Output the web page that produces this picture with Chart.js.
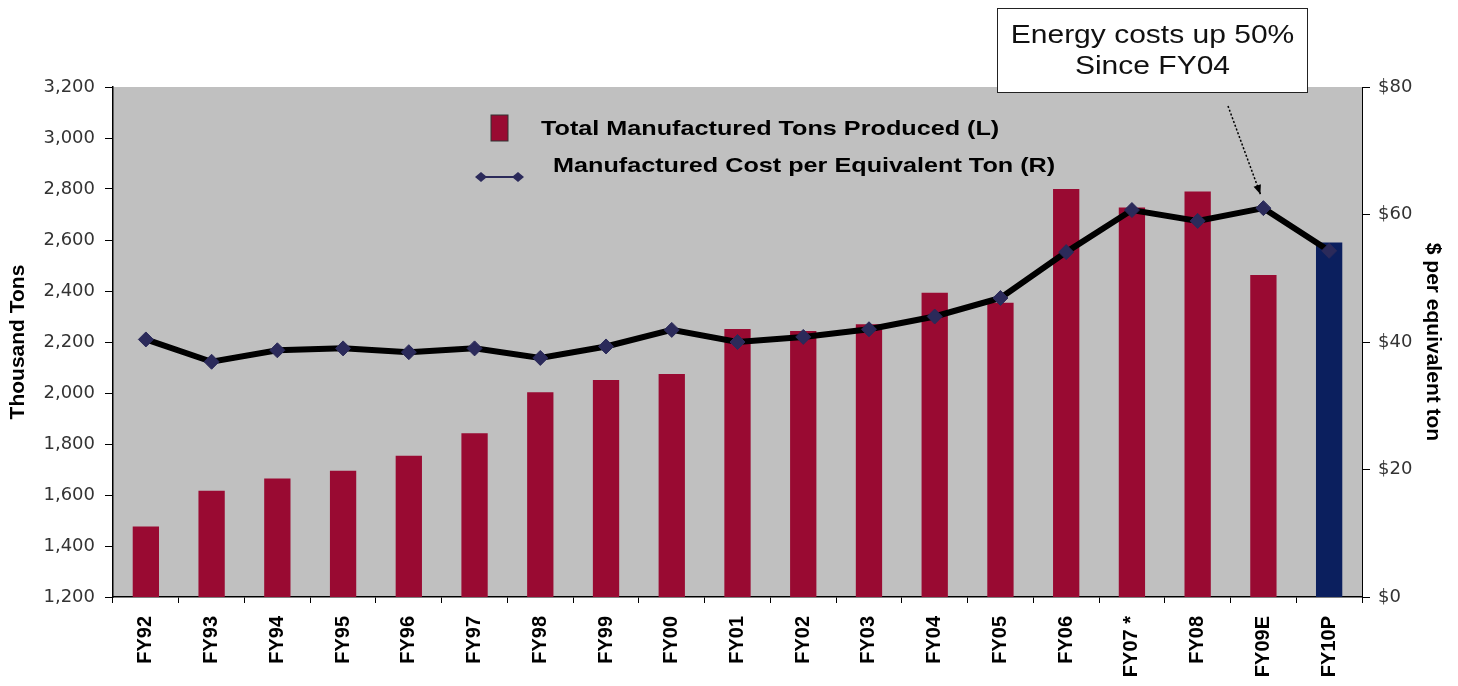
<!DOCTYPE html>
<html>
<head>
<meta charset="utf-8">
<script src="https://cdn.jsdelivr.net/npm/chart.js@4"></script>
<style>
    html, body { margin: 0; padding: 0; background: #ffffff; }
    #wrap { position: relative; width: 1458px; height: 686px; }
    #note {
        position: absolute; left: 997px; top: 8px; width: 311px; height: 85px;
        box-sizing: border-box; border: 1.5px solid #222; background: #ffffff;
        font-family: "Liberation Sans", Arial, sans-serif; font-size: 25px; line-height: 31px;
        text-align: center; padding-top: 10px; color: #111;
    }
    #note div { transform: scaleX(1.2); transform-origin: center; }
</style>
</head>
<body>
<div id="wrap">
    <canvas id="myChart" width="1458" height="686"></canvas>
    <div id="note"><div>Energy costs up 50%</div><div>Since FY04</div></div>
</div>
<script>
const years = ['FY92', 'FY93', 'FY94', 'FY95', 'FY96', 'FY97', 'FY98', 'FY99', 'FY00', 'FY01',
    'FY02', 'FY03', 'FY04', 'FY05', 'FY06', 'FY07 *', 'FY08', 'FY09E', 'FY10P'];
const tonsProduced = [1476, 1617, 1665, 1695, 1754, 1842, 2003, 2051, 2075, 2251,
    2243, 2270, 2393, 2354, 2800, 2727, 2790, 2463, 2590];
const costPerTon = [40.4, 36.9, 38.7, 39.0, 38.4, 39.0, 37.5, 39.3, 41.9, 40.0,
    40.8, 42.0, 44.0, 46.9, 54.1, 60.7, 59.0, 61.0, 54.3];
const leftTicks = [1200, 1400, 1600, 1800, 2000, 2200, 2400, 2600, 2800, 3000, 3200];
const rightTicks = [0, 20, 40, 60, 80];

const barRed = '#990a32';
const barNavy = '#0b1f5e';
const pointColor = '#2b2a5a';
const tickFont = { family: '"DejaVu Sans", sans-serif', size: 18 };
const boldFont = '"Liberation Sans", Arial, sans-serif';

// grey plot area
const plotBackground = {
    id: 'plotBackground',
    beforeDraw(chart)
    {
        const { ctx, chartArea } = chart;
        ctx.save();
        ctx.fillStyle = '#c0c0c0';
        ctx.fillRect(chartArea.left, chartArea.top, chartArea.right - chartArea.left, chartArea.bottom - chartArea.top);
        ctx.restore();
    }
};

// stretched text like the original picture
function wideText(ctx, text, x, y)
{
    ctx.save();
    ctx.translate(x, y);
    ctx.scale(1.2, 1);
    ctx.fillText(text, 0, 0);
    ctx.restore();
}

// legend inside the plot and the dotted arrow to FY09E
const overlay = {
    id: 'overlay',
    afterDraw(chart)
    {
        const { ctx } = chart;
        ctx.save();
        ctx.font = 'bold 21px ' + boldFont;
        ctx.textBaseline = 'middle';

        ctx.fillStyle = barRed;
        ctx.strokeStyle = '#333';
        ctx.lineWidth = 1;
        ctx.fillRect(491, 115, 17, 26);
        ctx.strokeRect(491, 115, 17, 26);
        ctx.fillStyle = '#000';
        wideText(ctx, 'Total Manufactured Tons Produced (L)', 541, 129);

        ctx.strokeStyle = pointColor;
        ctx.lineWidth = 2;
        ctx.beginPath();
        ctx.moveTo(481, 177);
        ctx.lineTo(518, 177);
        ctx.stroke();
        ctx.fillStyle = pointColor;
        [481, 518].forEach(x =>
        {
            ctx.beginPath();
            ctx.moveTo(x, 172); ctx.lineTo(x + 6, 177); ctx.lineTo(x, 182); ctx.lineTo(x - 6, 177);
            ctx.closePath();
            ctx.fill();
        });
        ctx.fillStyle = '#000';
        wideText(ctx, 'Manufactured Cost per Equivalent Ton (R)', 553, 166);

        const meta = chart.getDatasetMeta(1);
        const target = meta.data[17];
        const tx = target.x - 3, ty = target.y - 14;
        const sx = 1228, sy = 106;
        ctx.strokeStyle = '#000';
        ctx.lineWidth = 1.5;
        ctx.setLineDash([2, 2]);
        ctx.beginPath();
        ctx.moveTo(sx, sy);
        ctx.lineTo(tx, ty);
        ctx.stroke();
        ctx.setLineDash([]);
        const ang = Math.atan2(ty - sy, tx - sx);
        ctx.fillStyle = '#000';
        ctx.beginPath();
        ctx.moveTo(tx, ty);
        ctx.lineTo(tx - 10 * Math.cos(ang - 0.4), ty - 10 * Math.sin(ang - 0.4));
        ctx.lineTo(tx - 10 * Math.cos(ang + 0.4), ty - 10 * Math.sin(ang + 0.4));
        ctx.closePath();
        ctx.fill();
        ctx.restore();
    }
};

new Chart(document.getElementById('myChart').getContext('2d'), {
    data: {
        labels: years,
        datasets: [
            {
                type: 'bar',
                label: 'Total Manufactured Tons Produced (L)',
                data: tonsProduced,
                yAxisID: 'y',
                backgroundColor: years.map((_, i) => i === years.length - 1 ? barNavy : barRed),
                barPercentage: 0.4,
                categoryPercentage: 1,
                order: 1
            },
            {
                type: 'line',
                label: 'Manufactured Cost per Equivalent Ton (R)',
                data: costPerTon,
                yAxisID: 'y1',
                borderColor: '#000',
                borderWidth: 6,
                pointStyle: 'rectRot',
                pointRadius: 7.5,
                pointBackgroundColor: pointColor,
                pointBorderColor: pointColor,
                pointBorderWidth: 1,
                tension: 0,
                order: 0
            }
        ]
    },
    options: {
        responsive: false,
        animation: false,
        devicePixelRatio: 1,
        layout: { padding: { top: 87, left: 0, right: 0, bottom: 0 } },
        plugins: {
            legend: { display: false },
            tooltip: { enabled: false }
        },
        scales: {
            x: {
                grid: { display: true, drawOnChartArea: false, color: '#000', tickLength: 6 },
                border: { color: '#000', width: 1.5 },
                ticks: {
                    minRotation: 90, maxRotation: 90, padding: 13, color: '#000', autoSkip: false,
                    font: { family: boldFont, size: 20, weight: 'bold' }
                },
                afterFit(scale) { scale.height = 89; }
            },
            y: {
                position: 'left',
                min: leftTicks[0],
                max: leftTicks[leftTicks.length - 1],
                afterBuildTicks(scale) { scale.ticks = leftTicks.map(v => ({ value: v })); },
                grid: { drawOnChartArea: false, color: '#000', tickLength: 8 },
                border: { color: '#000', width: 1.5 },
                ticks: {
                    padding: 10, color: '#333', font: tickFont,
                    callback: value => value.toLocaleString('en-US')
                },
                title: {
                    display: true, text: 'Thousand Tons', color: '#000',
                    font: { family: boldFont, size: 21, weight: 'bold' },
                    padding: { top: 6, bottom: 0 }
                },
                afterFit(scale) { scale.width = 113; }
            },
            y1: {
                position: 'right',
                min: rightTicks[0],
                max: rightTicks[rightTicks.length - 1],
                afterBuildTicks(scale) { scale.ticks = rightTicks.map(v => ({ value: v })); },
                grid: { drawOnChartArea: false, color: '#000', tickLength: 8 },
                border: { color: '#000', width: 1, dash: [2, 2] },
                ticks: {
                    padding: 8, color: '#333', font: tickFont,
                    callback: value => '$' + value
                },
                title: {
                    display: true, text: '$ per equivalent ton', color: '#000',
                    font: { family: boldFont, size: 21, weight: 'bold' },
                    padding: { top: 13, bottom: 0 }
                },
                afterFit(scale) { scale.width = 96; }
            }
        }
    },
    plugins: [plotBackground, overlay]
});
</script>
</body>
</html>
